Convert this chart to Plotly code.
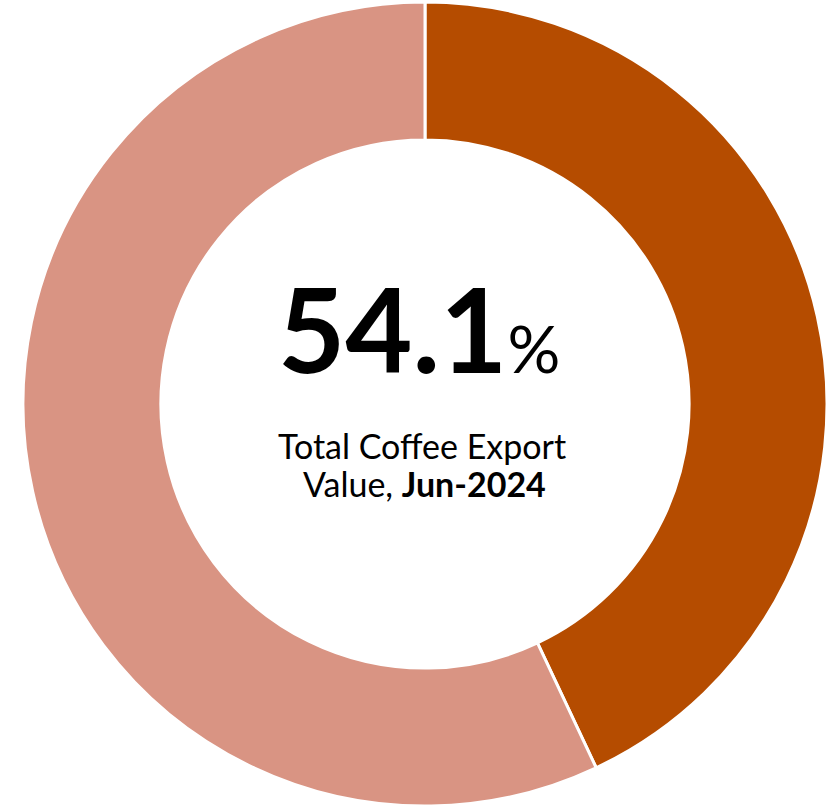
import plotly.graph_objects as go

labels = ["Selected", "Other"]
values = [43.0, 57.0]
colors = ["#B54C00", "#D99483"]

big_value = "54.1"
caption_line1 = "Total Coffee Export"
caption_line2_a = "Value, "
caption_line2_b = "Jun-2024"

fig = go.Figure(go.Pie(
    labels=labels, values=values, hole=0.657, sort=False,
    direction="clockwise", rotation=0,
    marker=dict(colors=colors, line=dict(color="white", width=3)),
    textinfo="none", hoverinfo="label+percent", showlegend=False,
))

W, H = 827, 806
ml, mr, mt, mb = 23, 0, 2, 0
ph = H - mt - mb
pw = W - ml - mr

def py(pix):
    return (H - mb - pix) / ph

def px(pix):
    return (pix - ml) / pw

fig.add_annotation(
    text=f"<b>{big_value}</b><span style='font-size:66px'>%</span>",
    x=px(419), xref="paper", y=py(372), yref="paper", yanchor="bottom",
    xanchor="center", yshift=-28, showarrow=False,
    font=dict(family="Lato", size=116, color="black"),
)
fig.add_annotation(
    text=caption_line1,
    x=px(422), xref="paper", y=py(445), yref="paper", yanchor="middle",
    xanchor="center", showarrow=False,
    font=dict(family="Lato", size=34, color="black"),
)
fig.add_annotation(
    text=f"{caption_line2_a}<b>{caption_line2_b}</b>",
    x=px(424), xref="paper", y=py(483), yref="paper", yanchor="middle",
    xanchor="center", showarrow=False,
    font=dict(family="Lato", size=34, color="black"),
)

fig.update_layout(
    width=W, height=H,
    margin=dict(l=ml, r=mr, t=mt, b=mb),
    paper_bgcolor="white", plot_bgcolor="white",
)
fig.write_html("out.html", config={"displayModeBar": False},
               post_script="document.body.style.margin='0px';")
